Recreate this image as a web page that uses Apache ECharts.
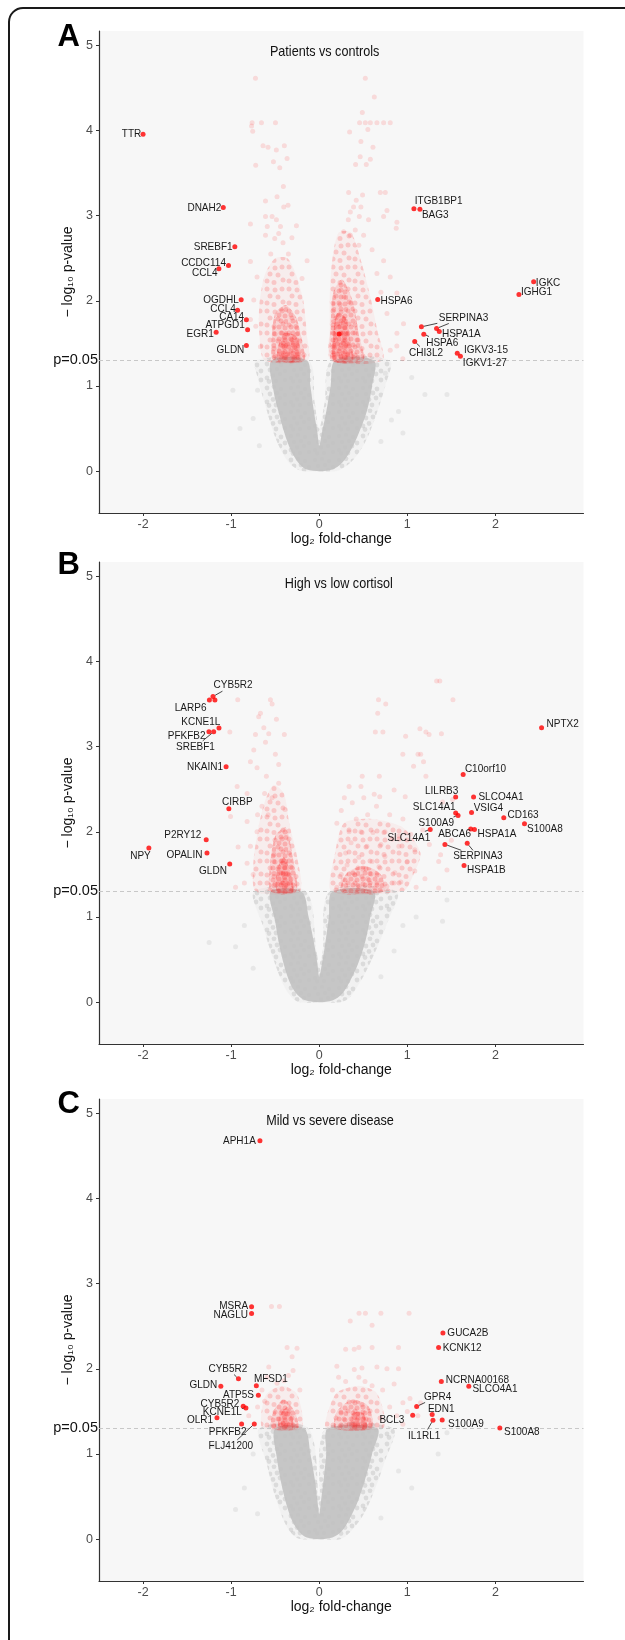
<!DOCTYPE html>
<html>
<head>
<meta charset="utf-8">
<script src="https://cdn.jsdelivr.net/npm/echarts@6/dist/echarts.min.js"></script>
<style>
  html, body { margin: 0; padding: 0; background: #fff; }
  #chart { width: 625px; height: 1640px; }
</style>
</head>
<body>
<div id="chart"></div>
<script>
const FONT = '"Liberation Sans", Arial, sans-serif';
const NARROW = '"Liberation Sans Narrow", "Liberation Sans", Arial, sans-serif';
const SQUEEZE = 0.87; // the source figure is horizontally squeezed
const X_TICKS = [-2, -1, 0, 1, 2];
const Y_TICKS = [0, 1, 2, 3, 4, 5];
const P_LINE = 1.30103; // -log10(0.05)
const TITLES = ['Patients vs controls', 'High vs low cortisol', 'Mild vs severe disease'];
const LETTERS = ['A', 'B', 'C'];

// labelled genes: [name, log2FC, -log10p, labelX, labelY, leader (0 none, 1 text+line, 2 line only)]
const genesA = [
  ['TTR', -2.0, 3.955, -2.131, 3.955, 0],
  ['DNAH2', -1.089, 3.095, -1.304, 3.095, 0],
  ['SREBF1', -0.958, 2.633, -1.204, 2.633, 0],
  ['CCDC114', -1.03, 2.414, -1.313, 2.445, 0],
  ['CCL4', -1.139, 2.375, -1.299, 2.328, 0],
  ['ITGB1BP1', 1.075, 3.08, 1.356, 3.173, 0],
  ['BAG3', 1.143, 3.075, 1.317, 3.005, 0],
  ['IGKC', 2.434, 2.222, 2.598, 2.21, 0],
  ['IGHG1', 2.267, 2.074, 2.467, 2.10, 0],
  ['OGDHL', -0.886, 2.011, -1.116, 2.011, 0],
  ['CCL4', -0.927, 1.89, -1.091, 1.909, 0],
  ['CA14', -0.827, 1.776, -0.994, 1.811, 0],
  ['ATPGD1', -0.813, 1.659, -1.069, 1.714, 0],
  ['EGR1', -1.17, 1.631, -1.351, 1.616, 0],
  ['GLDN', -0.827, 1.475, -1.008, 1.42, 0],
  ['HSPA6', 0.664, 2.015, 0.877, 2.003, 0],
  ['SERPINA3', 1.16, 1.694, 1.638, 1.804, 1],
  ['SERPINA3', 1.332, 1.675, 1.638, 1.804, 2],
  ['HSPA1A', 1.363, 1.64, 1.613, 1.608, 0],
  ['HSPA6', 1.187, 1.608, 1.396, 1.51, 1],
  ['CHI3L2', 1.084, 1.522, 1.213, 1.393, 1],
  ['IGKV3-15', 1.567, 1.385, 1.893, 1.42, 1],
  ['IGKV1-27', 1.603, 1.35, 1.88, 1.276, 0],
  ['', 0.226, 1.61, 0.226, 1.61, 0]
];
const genesB = [
  ['CYB5R2', -1.206, 3.587, -0.978, 3.72, 1],
  ['LARP6', -1.247, 3.545, -1.46, 3.458, 0],
  ['', -1.184, 3.545, -1.184, 3.545, 0],
  ['KCNE1L', -1.138, 3.217, -1.344, 3.294, 0],
  ['PFKFB2', -1.252, 3.173, -1.505, 3.126, 0],
  ['SREBF1', -1.198, 3.173, -1.405, 2.997, 1],
  ['NKAIN1', -1.057, 2.763, -1.297, 2.763, 0],
  ['C10orf10', 1.634, 2.673, 1.887, 2.736, 0],
  ['NPTX2', 2.524, 3.22, 2.763, 3.267, 0],
  ['LILRB3', 1.549, 2.408, 1.39, 2.485, 0],
  ['SLCO4A1', 1.752, 2.408, 2.063, 2.408, 0],
  ['CIRBP', -1.026, 2.271, -0.929, 2.356, 0],
  ['SLC14A1', 1.549, 2.22, 1.306, 2.298, 0],
  ['S100A9', 1.576, 2.192, 1.328, 2.103, 1],
  ['VSIG4', 1.729, 2.227, 1.92, 2.279, 0],
  ['CD163', 2.095, 2.165, 2.314, 2.197, 0],
  ['S100A8', 2.33, 2.095, 2.562, 2.036, 0],
  ['ABCA6', 1.72, 2.033, 1.536, 1.97, 0],
  ['HSPA1A', 1.762, 2.028, 2.018, 1.978, 0],
  ['SLC14A1', 1.26, 2.028, 1.017, 1.934, 1],
  ['SERPINA3', 1.427, 1.852, 1.801, 1.712, 1],
  ['SERPINA3', 1.68, 1.864, 1.801, 1.712, 2],
  ['HSPA1B', 1.644, 1.603, 1.898, 1.559, 0],
  ['P2RY12', -1.283, 1.907, -1.548, 1.962, 0],
  ['NPY', -1.934, 1.81, -2.029, 1.712, 0],
  ['OPALIN', -1.274, 1.752, -1.53, 1.728, 0],
  ['GLDN', -1.016, 1.623, -1.206, 1.54, 0]
];
const genesC = [
  ['APH1A', -0.673, 4.675, -0.906, 4.675, 0],
  ['MSRA', -0.768, 2.727, -0.972, 2.735, 0],
  ['NAGLU', -0.768, 2.649, -1.005, 2.629, 0],
  ['GUCA2B', 1.404, 2.421, 1.688, 2.421, 0],
  ['KCNK12', 1.355, 2.25, 1.622, 2.25, 0],
  ['CYB5R2', -0.917, 1.882, -1.037, 2.003, 1],
  ['GLDN', -1.117, 1.796, -1.315, 1.816, 0],
  ['MFSD1', -0.714, 1.8, -0.549, 1.878, 0],
  ['ATP5S', -0.691, 1.69, -0.917, 1.694, 0],
  ['CYB5R2', -0.863, 1.56, -1.127, 1.593, 0],
  ['KCNE1L', -0.832, 1.54, -1.1, 1.499, 1],
  ['OLR1', -1.161, 1.424, -1.353, 1.397, 0],
  ['PFKFB2', -0.881, 1.353, -1.039, 1.259, 0],
  ['FLJ41200', -0.737, 1.353, -1.003, 1.095, 1],
  ['NCRNA00168', 1.386, 1.85, 1.796, 1.874, 0],
  ['SLCO4A1', 1.698, 1.796, 1.995, 1.769, 0],
  ['GPR4', 1.106, 1.557, 1.344, 1.675, 1],
  ['EDN1', 1.282, 1.464, 1.385, 1.534, 0],
  ['BCL3', 1.061, 1.455, 0.825, 1.397, 0],
  ['IL1RL1', 1.291, 1.397, 1.191, 1.217, 1],
  ['S100A9', 1.396, 1.4, 1.665, 1.358, 0],
  ['S100A8', 2.05, 1.306, 2.3, 1.264, 0]
];

// non-significant cloud outlines
const grayHaloA = [[0,0],[-0.22,0.01],[-0.36,0.12],[-0.5,0.4],[-0.62,0.8],[-0.7,1.1],[-0.72,1.3],[-0.12,1.3],[-0.05,0.8],[0,0.5],[0.06,0.8],[0.14,1.3],[0.8,1.3],[0.75,1.0],[0.66,0.7],[0.55,0.4],[0.4,0.15],[0.22,0.01]];
const grayCoreA = [[0,0],[-0.14,0.02],[-0.22,0.08],[-0.3,0.2],[-0.38,0.4],[-0.45,0.65],[-0.52,0.95],[-0.54,1.3],[-0.14,1.3],[-0.1,1.0],[-0.06,0.7],[-0.02,0.45],[0,0.3],[0.03,0.45],[0.08,0.7],[0.13,1.0],[0.18,1.3],[0.62,1.3],[0.6,1.0],[0.54,0.7],[0.45,0.45],[0.36,0.25],[0.26,0.1],[0.15,0.02]];
const grayHaloB = [[0,0],[-0.25,0.01],[-0.38,0.15],[-0.52,0.5],[-0.64,0.9],[-0.74,1.3],[-0.15,1.3],[-0.03,0.6],[0,0.45],[0.04,0.6],[0.12,1.3],[0.88,1.3],[0.78,0.95],[0.64,0.6],[0.5,0.3],[0.3,0.02]];
const grayCoreB = [[0,0],[-0.15,0.02],[-0.24,0.08],[-0.32,0.2],[-0.39,0.4],[-0.45,0.65],[-0.5,0.95],[-0.55,1.3],[-0.2,1.3],[-0.12,1.0],[-0.06,0.7],[-0.02,0.45],[0,0.3],[0.03,0.45],[0.07,0.7],[0.11,1.0],[0.15,1.3],[0.62,1.3],[0.58,1.0],[0.52,0.7],[0.44,0.45],[0.35,0.25],[0.26,0.1],[0.15,0.02]];
const grayHaloC = [[0,0],[-0.24,0.01],[-0.37,0.15],[-0.5,0.5],[-0.6,0.9],[-0.68,1.3],[-0.12,1.3],[0,0.5],[0.07,1.3],[0.84,1.3],[0.74,0.9],[0.62,0.55],[0.48,0.25],[0.26,0.01]];
const grayCoreC = [[0,0],[-0.14,0.02],[-0.22,0.08],[-0.3,0.2],[-0.37,0.4],[-0.43,0.65],[-0.48,0.95],[-0.5,1.3],[-0.17,1.3],[-0.1,1.0],[-0.05,0.7],[-0.02,0.45],[0,0.3],[0.02,0.45],[0.05,0.7],[0.08,1.0],[0.1,1.3],[0.66,1.3],[0.6,1.0],[0.52,0.7],[0.44,0.45],[0.35,0.25],[0.26,0.1],[0.15,0.02]];

// significant (p<0.05) dense areas: halo, core, deepest
const redHaloA = [
  [[-0.62,1.3],[-0.68,1.6],[-0.68,1.95],[-0.62,2.3],[-0.5,2.5],[-0.36,2.5],[-0.26,2.3],[-0.18,2.0],[-0.14,1.6],[-0.13,1.3]],
  [[0.13,1.3],[0.12,1.7],[0.12,2.1],[0.15,2.5],[0.22,2.8],[0.36,2.8],[0.48,2.45],[0.58,2.05],[0.66,1.65],[0.72,1.3]]
];
const redCoreA = [
  [[-0.52,1.3],[-0.54,1.55],[-0.5,1.85],[-0.38,1.95],[-0.26,1.8],[-0.19,1.5],[-0.17,1.3]],
  [[0.14,1.3],[0.13,1.7],[0.16,2.1],[0.26,2.25],[0.38,2.0],[0.45,1.6],[0.5,1.3]]
];
const redDeepA = [
  [[-0.47,1.3],[-0.47,1.45],[-0.4,1.62],[-0.26,1.58],[-0.21,1.3]],
  [[0.16,1.3],[0.16,1.6],[0.2,1.85],[0.3,1.8],[0.36,1.5],[0.38,1.3]]
];
const redHaloB = [
  [[-0.72,1.3],[-0.75,1.6],[-0.7,2.0],[-0.62,2.35],[-0.52,2.55],[-0.4,2.45],[-0.34,2.1],[-0.25,1.7],[-0.22,1.3]],
  [[0.14,1.3],[0.18,1.75],[0.28,2.1],[0.6,2.15],[0.95,2.05],[1.15,1.75],[1.05,1.45],[0.95,1.3]]
];
const redCoreB = [
  [[-0.55,1.3],[-0.56,1.6],[-0.5,1.95],[-0.38,2.05],[-0.3,1.7],[-0.26,1.3]],
  [[0.25,1.3],[0.3,1.5],[0.5,1.6],[0.7,1.5],[0.74,1.3]]
];
const redDeepB = [
  [[-0.48,1.3],[-0.48,1.55],[-0.4,1.7],[-0.32,1.5],[-0.3,1.3]]
];
const redHaloC = [
  [[-0.64,1.3],[-0.66,1.45],[-0.6,1.7],[-0.42,1.8],[-0.25,1.7],[-0.2,1.3]],
  [[0.08,1.3],[0.1,1.5],[0.2,1.72],[0.45,1.8],[0.65,1.72],[0.74,1.45],[0.72,1.3]]
];
const redCoreC = [
  [[-0.54,1.3],[-0.52,1.5],[-0.4,1.64],[-0.28,1.5],[-0.24,1.3]],
  [[0.18,1.3],[0.2,1.5],[0.38,1.64],[0.56,1.56],[0.6,1.3]]
];
const redDeepC = [
  [[-0.46,1.3],[-0.45,1.45],[-0.36,1.55],[-0.3,1.4],[-0.3,1.3]],
  [[0.35,1.3],[0.38,1.48],[0.5,1.48],[0.54,1.3]]
];

// scattered significant genes (faint red)
const redPtsA = [[-0.724,4.61],[0.523,4.61],[0.625,4.39],[0.489,4.21],[-0.762,4.09],[-0.656,4.09],[-0.497,4.09],[-0.768,4.05],
  [0.458,4.09],[0.523,4.09],[0.58,4.09],[0.655,4.09],[0.731,4.09],[0.806,4.09],[-0.755,3.99],[0.552,4.01],[0.345,3.98],
  [-0.638,3.82],[-0.581,3.8],[-0.487,3.77],[-0.396,3.82],[0.473,3.87],[0.61,3.8],[-0.52,3.63],[-0.365,3.67],[-0.448,3.56],
  [-0.721,3.59],[0.465,3.69],[0.58,3.66],[0.413,3.6],[0.534,3.6],[-0.407,3.34],[-0.479,3.22],[-0.61,3.17],[-0.403,3.1],
  [-0.354,3.12],[0.334,3.27],[0.39,3.1],[0.492,3.24],[0.473,3.1],[0.42,3.18],[0.693,3.27],[0.75,3.27],[-0.61,2.99],
  [-0.535,2.99],[-0.486,2.95],[-0.781,2.9],[-0.259,2.88],[-0.59,2.87],[-0.44,2.87],[-0.61,2.77],[-0.46,2.79],[-0.505,2.73],
  [-0.31,2.74],[-0.411,2.68],[0.353,3.04],[0.455,2.99],[0.33,2.95],[0.277,2.81],[0.353,2.77],[0.409,2.83],[0.504,2.77],
  [0.56,2.95],[0.731,2.99],[0.882,2.92],[0.874,2.85],[0.769,3.06],[-0.781,2.46],[-0.706,2.28],[-0.195,2.26],[-0.138,2.47],
  [0.655,2.32],[0.731,2.47],[0.806,2.28],[0.882,2.09],[-0.743,2.01],[-0.781,1.78],[-0.668,1.46],[0.769,1.85],[0.882,1.62],
  [0.957,1.73],[0.806,1.42],[0.949,1.32],[0.881,1.47],[-0.55,2.55],[-0.35,2.55],[0.6,2.6],[0.45,2.65],[-0.72,1.7],[0.7,2.1]];
const redPtsB = [[-0.925,3.55],[-0.554,3.55],[-0.535,3.5],[-0.667,3.39],[-0.687,3.35],[-0.486,3.32],[-0.629,3.22],[-0.573,3.15],
  [-0.396,3.14],[-1.015,3.17],[-0.724,3.14],[-0.61,3.05],[-0.743,2.96],[-0.781,2.82],[-0.498,2.91],[-0.46,2.79],[-0.706,2.75],
  [-0.6,2.65],[-0.46,2.57],[-0.932,2.53],[-0.819,2.45],[-0.535,2.4],[-0.388,2.26],[-1.007,2.18],[-0.819,2.12],[-0.706,2.0],
  [-0.921,1.82],[-0.819,1.63],[-0.781,1.83],[-0.65,2.3],[-0.7,2.2],[-0.62,2.45],[-0.58,2.2],[-0.75,1.5],[-0.85,1.4],[-0.95,1.35],
  [1.333,3.77],[1.369,3.77],[1.518,3.55],[0.673,3.55],[0.755,3.5],[0.664,3.39],[0.637,3.17],[0.723,3.17],[1.143,3.21],
  [1.211,3.17],[1.247,3.14],[1.387,3.15],[0.981,3.12],[0.949,2.91],[1.121,2.91],[1.152,2.91],[1.184,2.82],[1.071,2.77],
  [1.211,2.65],[0.488,2.65],[0.682,2.65],[0.339,2.53],[0.474,2.53],[0.624,2.44],[0.85,2.49],[0.976,2.41],[0.285,2.4],
  [0.375,2.34],[0.506,2.4],[0.687,2.41],[1.514,2.38],[1.401,2.35],[0.339,2.0],[0.474,2.0],[0.61,1.99],[0.746,2.0],[0.904,1.95],
  [1.039,1.97],[1.175,2.02],[0.362,1.87],[0.542,1.83],[0.746,1.71],[0.904,1.83],[1.085,1.79],[1.378,1.73],[1.356,1.65],
  [0.316,1.61],[0.497,1.56],[0.678,1.59],[0.859,1.52],[1.085,1.54],[0.926,1.41],[1.356,1.34],[0.271,1.44],[0.452,1.36],
  [0.633,1.34],[0.768,1.36],[0.2,1.35],[0.25,1.5],[0.4,1.5],[0.55,1.45],[0.6,1.65],[0.45,1.7],[0.3,1.75],[0.2,2.1],
  [0.25,2.25],[0.8,2.2],[0.95,2.15],[1.0,1.65],[1.2,1.45],[1.25,1.85],[0.7,1.85],[0.55,2.2],[0.42,2.15],[0.65,2.3],
  [0.85,1.4],[1.1,1.35],[1.5,1.9],[1.45,1.55]];
const redPtsC = [[-0.542,2.73],[-0.452,2.73],[0.452,2.65],[0.524,2.65],[0.7,2.65],[1.02,2.65],[0.352,2.56],[0.6,2.51],
  [0.3,2.23],[0.397,2.23],[0.45,2.25],[0.6,2.25],[0.9,2.25],[-0.365,2.25],[-0.252,2.24],[-0.308,2.14],[0.2,2.03],[0.398,1.99],
  [0.485,2.01],[0.655,2.02],[0.769,2.0],[0.9,2.0],[-0.573,2.02],[-0.297,1.98],[-0.591,1.9],[-0.479,1.83],[-0.4,1.86],
  [-0.65,1.75],[-0.7,1.55],[0.3,1.85],[0.45,1.9],[0.6,1.8],[0.85,1.82],[0.95,1.6],[1.0,1.5],[1.03,1.65],[1.12,1.45],
  [0.22,1.9],[0.52,1.85],[0.72,1.75],[0.8,1.55],[0.88,1.45],[0.15,1.75],[-0.35,1.92],[-0.22,1.75],[-0.62,1.62],
  [-0.8,1.45],[0.95,1.35],[1.15,1.6]];

// non-significant outliers outside the main cloud
const grayPtsA = [[-0.9,0.5],[-0.75,0.62],[-0.68,0.3],[0.82,0.6],[0.9,0.7],[0.95,0.45],[1.2,0.9],[1.45,0.9],[-0.98,0.95],[0.75,1.15],[1.05,1.1],[-0.7,0.95],[0.7,0.35]];
const grayPtsB = [[-0.95,0.65],[-0.85,0.9],[-1.25,0.7],[0.95,0.9],[1.1,1.0],[1.4,0.95],[0.85,0.6],[1.45,1.2],[-0.75,0.4],[0.7,0.3]];
const grayPtsC = [[-0.85,0.6],[-0.95,0.35],[-1.2,1.1],[0.9,0.8],[1.05,0.6],[1.35,1.0],[1.45,1.25],[-0.7,0.3],[0.7,0.25],[-0.75,1.0]];

const panels = [
  { genes: genesA, grayHalo: grayHaloA, grayCore: grayCoreA, redHalo: redHaloA, redCore: redCoreA, redDeep: redDeepA, redPts: redPtsA, grayPts: grayPtsA },
  { genes: genesB, grayHalo: grayHaloB, grayCore: grayCoreB, redHalo: redHaloB, redCore: redCoreB, redDeep: redDeepB, redPts: redPtsB, grayPts: grayPtsB },
  { genes: genesC, grayHalo: grayHaloC, grayCore: grayCoreC, redHalo: redHaloC, redCore: redCoreC, redDeep: redDeepC, redPts: redPtsC, grayPts: grayPtsC }
];

// layout
const GRID_LEFT = 99, GRID_W = 484.5, GRID_H = 482;
const GRID_TOPS = [31, 562, 1099];
const TITLE_POS = [[324.6, 52], [338.8, 584.3], [330, 1120.7]];
const LETTER_Y = [37, 565, 1104];
const AXIS = '#333333';
const TICK_TEXT = '#4d4d4d';

// speckle textures so the dense areas read as overlapping dots
function dotTile(size, dots, color, r, base) {
  const c = document.createElement('canvas');
  c.width = c.height = size;
  const ctx = c.getContext('2d');
  if (base) { ctx.fillStyle = base; ctx.fillRect(0, 0, size, size); }
  ctx.fillStyle = color;
  dots.forEach(([x, y]) => { ctx.beginPath(); ctx.arc(x, y, r, 0, Math.PI * 2); ctx.fill(); });
  return { image: c, repeat: 'repeat' };
}
const TEX_GRAY = dotTile(24, [[3,4],[10,2.8],[17,5],[21,11],[6,10],[13,9],[3,18],[9,15.5],[16,14],[21,20],[12,21],[5,21.5]],
  'rgba(180,180,180,0.36)', 2.4, 'rgba(200,200,200,0.1)');
const TEX_RED_HALO = dotTile(22, [[3,3],[11,4],[18,3],[6,10],[14,11],[19,16],[3,17],[10,18.5]],
  'rgba(255,0,0,0.16)', 2.5, 'rgba(255,0,0,0.04)');
const TEX_RED_CORE = dotTile(12, [[3,3],[9,4],[5,9],[10,9.5]], 'rgba(255,0,0,0.18)', 2.5, 'rgba(255,0,0,0.1)');
const TEX_RED_DEEP = dotTile(10, [[3,3],[7.5,4],[4.5,7.5]], 'rgba(255,0,0,0.2)', 2.5, 'rgba(255,0,0,0.14)');

function polySeries(idx, pts, fill, z, smooth) {
  return {
    type: 'custom', xAxisIndex: idx, yAxisIndex: idx, silent: true, z: z,
    data: pts,
    renderItem: (params, api) => {
      if (params.dataIndex !== 0) return;
      return {
        type: 'polygon',
        shape: { points: pts.map((p) => api.coord(p)), smooth: smooth },
        style: { fill: fill }
      };
    }
  };
}

function labelSeries(idx, genes) {
  return {
    type: 'custom', xAxisIndex: idx, yAxisIndex: idx, silent: true, z: 12,
    data: genes.map((g) => [g[1], g[2], g[3], g[4]]),
    renderItem: (params, api) => {
      const g = genes[params.dataIndex];
      const p = api.coord([g[1], g[2]]);
      const c = api.coord([g[3], g[4]]);
      const kids = [];
      if (g[0] && g[5] !== 2) {
        kids.push({
          type: 'text', x: c[0], y: c[1], scaleX: SQUEEZE,
          style: { text: g[0], x: 0, y: 0, align: 'center', verticalAlign: 'middle',
                   fill: '#1a1a1a', fontSize: 11.5, fontFamily: FONT }
        });
      }
      if (g[5]) {
        // ggrepel-style segment from label box edge to the point
        const hw = g[0].length * 3.15 + 1, hh = 6;
        const dx = p[0] - c[0], dy = p[1] - c[1];
        const t = Math.min(dx ? hw / Math.abs(dx) : Infinity, dy ? hh / Math.abs(dy) : Infinity);
        if (t < 1) {
          const len = Math.hypot(dx, dy);
          const s = Math.max(t, 1 - 2.5 / len);
          kids.push({
            type: 'line',
            shape: { x1: c[0] + dx * t, y1: c[1] + dy * t, x2: c[0] + dx * s, y2: c[1] + dy * s },
            style: { stroke: '#1a1a1a', lineWidth: 0.8 }
          });
        }
      }
      return { type: 'group', children: kids };
    }
  };
}

const grids = GRID_TOPS.map((top) => ({
  left: GRID_LEFT, width: GRID_W, top: top, height: GRID_H,
  show: true, backgroundColor: '#f7f7f7', borderWidth: 0
}));

const xAxes = GRID_TOPS.map((_, i) => ({
  type: 'value', gridIndex: i, min: -2.5, max: 3.0,
  name: 'log\u2082 fold-change', nameLocation: 'middle', nameGap: 18,
  nameTextStyle: { fontSize: 14, color: '#111', fontFamily: NARROW },
  axisLine: { show: true, onZero: false, lineStyle: { color: AXIS, width: 1.2 } },
  axisTick: { show: true, customValues: X_TICKS, length: 3, lineStyle: { color: AXIS } },
  axisLabel: { customValues: X_TICKS, color: TICK_TEXT, fontSize: 12.5, margin: 5, fontFamily: NARROW,
               formatter: (v) => String(v) },
  splitLine: { show: false }
}));

const yAxes = GRID_TOPS.map((_, i) => ({
  type: 'value', gridIndex: i, min: -0.49, max: 5.165,
  name: '\u2212 log\u2081\u2080 p-value', nameLocation: 'middle', nameGap: 16, nameRotate: 90,
  nameTextStyle: { fontSize: 14, color: '#111', fontFamily: NARROW },
  axisLine: { show: true, onZero: false, lineStyle: { color: AXIS, width: 1.2 } },
  axisTick: { show: true, customValues: Y_TICKS, length: 3, lineStyle: { color: AXIS } },
  axisLabel: { customValues: Y_TICKS, color: TICK_TEXT, fontSize: 12.5, margin: 6, fontFamily: NARROW,
               formatter: (v) => String(v) },
  splitLine: { show: false }
}));

const series = [];
panels.forEach((pn, i) => {
  series.push(polySeries(i, pn.grayHalo, TEX_GRAY, 1, 0.3));
  series.push(polySeries(i, pn.grayCore, 'rgba(194,194,194,0.92)', 2, 0.3));
  series.push({
    type: 'scatter', xAxisIndex: i, yAxisIndex: i, silent: true, z: 3,
    symbolSize: 5, data: pn.grayPts, itemStyle: { color: 'rgba(190,190,190,0.35)' }
  });
  pn.redHalo.forEach((poly) => series.push(polySeries(i, poly, TEX_RED_HALO, 4, 0.25)));
  pn.redCore.forEach((poly) => series.push(polySeries(i, poly, TEX_RED_CORE, 5, 0.25)));
  pn.redDeep.forEach((poly) => series.push(polySeries(i, poly, TEX_RED_DEEP, 5, 0.25)));
  series.push({
    type: 'scatter', xAxisIndex: i, yAxisIndex: i, silent: true, z: 6,
    symbolSize: 5, data: pn.redPts, itemStyle: { color: 'rgba(255,0,0,0.15)' }
  });
  series.push({
    type: 'scatter', xAxisIndex: i, yAxisIndex: i, silent: true, z: 11,
    symbolSize: 5, data: pn.genes.map((g) => [g[1], g[2]]), itemStyle: { color: '#ff0000' },
    markLine: {
      silent: true, symbol: 'none', animation: false,
      lineStyle: { type: [4, 3], color: '#c8c8c8', width: 1 },
      label: { show: true, position: 'start', formatter: 'p=0.05', fontSize: 14.5, color: '#111',
               fontFamily: NARROW, distance: 1 },
      data: [{ yAxis: P_LINE }]
    }
  });
  series.push(labelSeries(i, pn.genes));
});

const graphics = [
  { type: 'rect', silent: true, z: 100,
    shape: { x: 9, y: 8, width: 700, height: 1700, r: 14 },
    style: { fill: 'none', stroke: '#1a1a1a', lineWidth: 2 } }
];
TITLES.forEach((t, i) => {
  graphics.push({ type: 'text', silent: true, z: 100, x: TITLE_POS[i][0], y: TITLE_POS[i][1], scaleX: SQUEEZE,
    style: { text: t, x: 0, y: 0, align: 'center', verticalAlign: 'middle', fontSize: 14.5, fill: '#111', fontFamily: FONT } });
  graphics.push({ type: 'text', silent: true, z: 100, x: 68.8, y: LETTER_Y[i],
    style: { text: LETTERS[i], x: 0, y: 0, align: 'center', verticalAlign: 'middle', fontSize: 31, fontWeight: 'bold',
             fill: '#000', fontFamily: FONT } });
});

const chart = echarts.init(document.getElementById('chart'), null, { renderer: 'canvas' });
chart.setOption({
  animation: false,
  backgroundColor: '#ffffff',
  textStyle: { fontFamily: FONT },
  grid: grids,
  xAxis: xAxes,
  yAxis: yAxes,
  series: series,
  graphic: graphics
});
</script>
</body>
</html>
